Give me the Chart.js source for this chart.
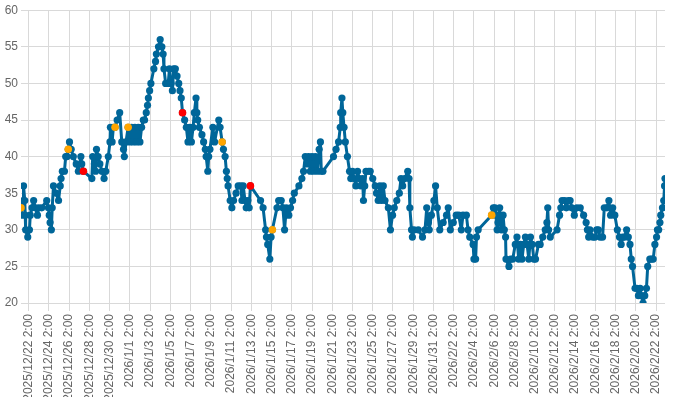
<html>
<head>
<meta charset="utf-8">
<title>chart</title>
<style>
	body { margin: 0; background: #fff; }
</style>
</head>
<body>

	<canvas id="canvas" width="700" height="397" style="display: block;"></canvas>

	<script src="https://cdn.jsdelivr.net/npm/chart.js"></script>

	<script>
		// hours counted from 2025/12/22 2:00
		var hours = [
			-18, -17, -13, -12, -9, -8, -7, -2, 2, 4, 8, 12, 16, 21, 24, 31, 43, 47, 49, 51, 54, 56, 59, 65, 71, 75, 77, 80, 85, 88,
			91, 94, 97, 101, 106, 113, 118, 124, 126, 130, 150, 152, 156, 159, 161, 165, 169, 174, 179, 183, 189, 193, 194, 198, 201, 205, 210, 216, 221, 225,
			227, 231, 236, 240, 244, 248, 252, 256, 260, 264, 268, 272, 275, 279, 282, 284, 287, 290, 297, 301, 303, 308, 312, 316, 319, 321, 325, 331, 334, 338,
			341, 344, 348, 352, 356, 359, 362, 365, 370, 374, 378, 382, 386, 390, 393, 397, 399, 401, 405, 411, 415, 419, 421, 425, 427, 430, 437, 441, 451, 454,
			459, 462, 466, 469, 471, 473, 478, 482, 486, 492, 497,
			503, 506, 509, 513, 516, 520, 523, 526, 550, 556, 562, 564, 567, 572, 575, 578, 589, 593, 599, 603, 607, 611, 617, 621, 626, 630, 641, 648, 652, 656,
			660, 664, 668, 672, 676, 680, 685, 689, 692, 694, 698, 723, 729, 735, 739, 740, 743, 745, 748, 751, 756, 761, 764, 768, 772, 776, 780, 784, 788, 792,
			794, 797, 800, 806, 810, 816, 822, 825, 829, 833, 837, 841, 845, 853, 858, 863, 867, 873, 879, 883, 887, 892, 899, 902, 904, 908, 910, 914, 924, 934,
			940, 944, 948, 950, 955, 961, 965, 969, 975, 983, 991, 995, 1000, 1007, 1014, 1020, 1026, 1030, 1038, 1042, 1046,
			1054, 1056, 1060, 1062, 1066, 1098, 1102, 1106, 1109, 1111, 1113, 1117, 1121, 1125, 1128, 1131, 1132, 1139, 1143, 1148, 1154, 1158, 1162, 1166, 1170, 1174, 1178, 1182, 1186, 1190,
			1194, 1198, 1202, 1209, 1213, 1219, 1225, 1229, 1231, 1233, 1237, 1253, 1259, 1262, 1265, 1271, 1275, 1280, 1284, 1288, 1294, 1300, 1308, 1316, 1322, 1325, 1328, 1331, 1338, 1343,
			1347, 1351, 1355, 1361, 1365, 1371, 1376, 1380, 1385, 1390, 1396, 1401, 1405, 1409, 1413, 1418, 1422, 1426, 1429, 1432, 1438, 1442, 1446, 1450, 1453, 1457, 1461, 1465, 1468, 1473,
			1477, 1481, 1485, 1489, 1491, 1494, 1497, 1499, 1503, 1506, 1508, 1509
		];

		var values = [
			33, 32, 34, 36, 34, 32, 30, 29, 30, 32, 33, 34, 33, 32, 33, 33, 34, 33, 32, 31, 30, 33, 36, 35, 34, 36, 37, 38, 38, 40,
			40, 41, 42, 41, 40, 39, 38, 40, 39, 38, 37, 40, 39, 38, 41, 40, 39, 38, 37, 38, 40, 42, 44, 42, 44, 44, 45, 46, 42, 41,
			40, 42, 44, 42, 44, 42, 44, 42, 44, 42, 44, 45, 45, 46, 47, 48, 49, 50, 52, 53, 54, 55, 56, 55, 54, 52, 50, 50, 52, 50,
			49, 52, 52, 51, 50, 49, 48, 46, 45, 44, 42, 44, 42, 44, 46, 48, 46, 45, 44, 43, 42, 41, 40, 38, 40, 41, 44, 42, 45, 44,
			42, 41, 40, 38, 37, 36, 34, 33, 34, 35, 36,
			36, 34, 36, 34, 33, 34, 33, 36, 34, 33, 30, 29, 28, 26, 29, 30, 33, 34, 34, 33, 30, 33, 32, 33, 34, 35, 36, 37, 38, 40,
			39, 40, 38, 40, 38, 40, 38, 41, 42, 38, 38, 40, 41, 42, 44, 46, 48, 46, 44, 42, 40, 38, 37, 38, 37, 36, 38, 37, 36, 37,
			34, 36, 38, 38, 38, 37, 36, 35, 34, 36, 34, 36, 34, 33, 30, 32, 33, 34, 35, 37, 36, 37, 38, 37, 33, 30, 29, 30, 30, 29,
			30, 33, 31, 30, 32, 34, 36, 33, 30, 31, 32, 33, 30, 31, 32, 32, 30, 32, 32, 30, 29,
			28, 26, 26, 29, 30, 32, 33, 33, 32, 30, 31, 33, 30, 32, 30, 29, 26, 25, 26, 26, 28, 29, 26, 28, 26, 28, 29, 28, 26, 29,
			28, 26, 26, 28, 28, 29, 30, 31, 33, 30, 29, 30, 32, 33, 34, 34, 33, 34, 34, 33, 32, 33, 33, 32, 31, 30, 29, 30, 29, 29,
			30, 30, 29, 29, 33, 33, 34, 32, 33, 32, 30, 29, 28, 29, 29, 30, 29, 28, 26, 25, 22, 22, 21, 22, 21, 20, 21, 22, 25, 26,
			26, 26, 28, 29, 30, 30, 31, 32, 33, 34, 36, 37
		];

		// points drawn in another colour
		var orangeHours = [-18, 94, 205, 236, 459, 578, 1098];
		var redHours = [130, 365, 526];

		var tickLabels = [
			'2025/12/22 2:00', '2025/12/24 2:00', '2025/12/26 2:00', '2025/12/28 2:00', '2025/12/30 2:00',
			'2026/1/1 2:00', '2026/1/3 2:00', '2026/1/5 2:00', '2026/1/7 2:00', '2026/1/9 2:00', '2026/1/11 2:00',
			'2026/1/13 2:00', '2026/1/15 2:00', '2026/1/17 2:00', '2026/1/19 2:00', '2026/1/21 2:00', '2026/1/23 2:00',
			'2026/1/25 2:00', '2026/1/27 2:00', '2026/1/29 2:00', '2026/1/31 2:00',
			'2026/2/2 2:00', '2026/2/4 2:00', '2026/2/6 2:00', '2026/2/8 2:00', '2026/2/10 2:00', '2026/2/12 2:00',
			'2026/2/14 2:00', '2026/2/16 2:00', '2026/2/18 2:00', '2026/2/20 2:00', '2026/2/22 2:00'
		];

		var blue = '#006699';

		var points = [];
		for (var i in hours) {
			points.push({x: hours[i], y: values[i]});
		}

		function pick(list) {
			return list.map(function (h) {
				return {x: h, y: values[hours.indexOf(h)]};
			});
		}

		// coloured dots on top of the line (lower order is drawn last)
		function marks(list, color) {
			return {
				data: pick(list),
				order: 0,
				showLine: false,
				pointRadius: 3.8,
				pointBorderWidth: 0,
				pointBackgroundColor: color,
				pointBorderColor: color
			};
		}

		Chart.defaults.font.family = 'Arial, "Liberation Sans", sans-serif';
		Chart.defaults.font.size = 12;
		Chart.defaults.color = '#666';

		var chart1 = new Chart(document.getElementById('canvas'), {
			type: 'line',
			data: {
				datasets: [{
					data: points,
					order: 1,
					fill: false,
					borderColor: blue,
					borderWidth: 3,
					borderJoinStyle: 'round',
					borderCapStyle: 'round',
					tension: 0,
					pointRadius: 3.6,
					pointBorderWidth: 0,
					pointBackgroundColor: blue,
					pointBorderColor: blue
				},
				marks(orangeHours, '#ffa500'),
				marks(redHours, '#ff0000')]
			},
			options: {
				responsive: false,
				animation: false,
				devicePixelRatio: 1,
				layout: {
					padding: {right: 35}
				},
				plugins: {
					legend: {display: false},
					tooltip: {enabled: false}
				},
				scales: {
					x: {
						type: 'linear',
						min: -18,
						max: 1509,
						border: {display: false},
						grid: {color: '#d9d9d9', tickLength: 8},
						afterBuildTicks: function (axis) {
							axis.ticks = tickLabels.map(function (t, i) { return {value: i * 48}; });
						},
						afterFit: function (axis) {
							axis.height = 94;
						},
						ticks: {
							autoSkip: false,
							minRotation: 90,
							maxRotation: 90,
							padding: 3,
							callback: function (v, i) { return tickLabels[i]; }
						}
					},
					y: {
						min: 20,
						max: 60,
						border: {display: false},
						grid: {color: '#d9d9d9', drawTicks: false},
						afterFit: function (axis) {
							axis.width = 21;
						},
						ticks: {
							stepSize: 5,
							padding: 3
						}
					}
				}
			}
		});
	</script>

</body>
</html>
